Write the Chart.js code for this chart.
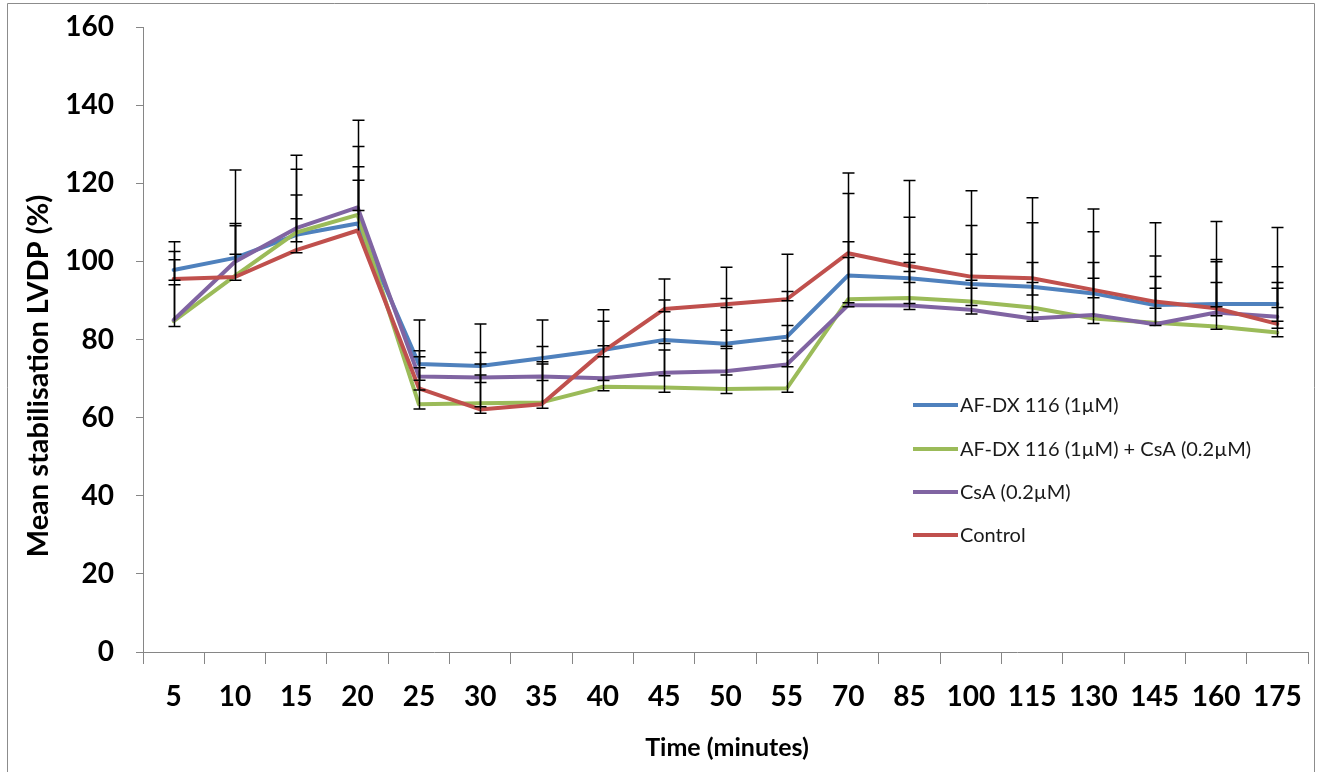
<!DOCTYPE html>
<html>
<head>
<meta charset="utf-8">
<script src="https://cdn.jsdelivr.net/npm/chart.js@4.4.1/dist/chart.umd.min.js"></script>
<style>
  html, body { margin: 0; padding: 0; background: #fff; }
  #wrap { width: 1318px; height: 772px; position: relative; }
</style>
</head>
<body>
<div id="wrap"><canvas id="c" width="1318" height="772"></canvas></div>
<script>
// ---- Data ----
const categories = ['5','10','15','20','25','30','35','40','45','50','55','70','85','100','115','130','145','160','175'];

const seriesNames = ['AF-DX 116 (1µM)', 'AF-DX 116 (1µM) + CsA (0.2µM)', 'CsA (0.2µM)', 'Control'];

const afdx    = [97.8,100.9,106.8,109.7,73.7,73.2,75.2,77.3,79.9,78.9,80.7,96.4,95.7,94.2,93.5,91.8,88.8,89.1,89.1];
const afdxCsa = [84.7,96.3,107.4,111.9,63.4,63.7,63.9,67.9,67.7,67.3,67.5,90.3,90.6,89.7,88.2,85.4,84.3,83.3,81.8];
const csa     = [85.0,99.9,108.5,113.8,70.5,70.3,70.5,70.1,71.5,71.9,73.6,88.8,88.7,87.6,85.4,86.3,83.9,86.9,85.8];
const control = [95.5,96.0,102.9,107.9,67.5,62.1,63.4,76.9,87.8,89.0,90.3,102.1,98.8,96.1,95.7,92.7,89.7,88.0,84.0];

// error bars (upward / downward extents)
const afdxErrUp      = [7.2,22.5,10.2,14.5,11.3,10.8,9.8,10.3,10.2,11.6,11.6,21.0,15.6,15.0,16.4,15.8,12.6,11.4,9.5];
const afdxErrDown    = [2.6,0,1.8,0,0,0,0,0,0.9,0.6,1.1,0,1.1,1.1,2.1,1.1,0.8,0.7,0.9];
const afdxCsaErrUp   = [9.3,5.5,16.2,17.5,9.4,10.0,10.4,7.7,9.6,10.4,9.2,14.7,11.2,12.1,11.5,10.3,8.8,11.3,11.3];
const afdxCsaErrDown = [1.4,0,0,0,1.2,0.9,0,1.0,1.2,1.1,1.0,0.9,1.4,1.0,1.3,1.3,0,0.7,1.1];
const csaErrUp       = [15.4,9.8,18.7,22.3,6.6,6.4,7.7,8.3,10.9,10.5,10.0,12.2,11.0,7.6,9.2,13.4,12.2,13.0,8.8];
const csaErrDown     = [0,0,0,0.8,0.9,1.3,1.0,0.6,0.8,1.0,0.6,0.4,1.0,1.1,0.7,0,0.3,0.8,1.1];
const controlErrUp   = [7.0,13.1,8.0,12.9,8.1,8.8,10.3,7.8,7.7,9.5,11.5,20.5,21.9,22.0,20.6,20.7,20.2,22.2,24.7];
const controlErrDown = [0,0.8,0.7,0,0.4,1.0,1.0,0,0.7,0.8,0.4,0,1.4,0,0,0,0,0,1.1];

const yTicks = [0,20,40,60,80,100,120,140,160];
const xTitle = 'Time (minutes)';
const yTitle = 'Mean stabilisation LVDP (%)';

// ---- Styling ----
const colors = ['#4F81BD', '#9BBB59', '#8064A2', '#C0504D'];
const axisGray = '#868686';

const seriesData = [afdx, afdxCsa, csa, control];
const errUps = [afdxErrUp, afdxCsaErrUp, csaErrUp, controlErrUp];
const errDowns = [afdxErrDown, afdxCsaErrDown, csaErrDown, controlErrDown];

const datasets = seriesData.map((d, i) => ({
  label: seriesNames[i],
  data: d,
  errUp: errUps[i],
  errDown: errDowns[i],
  borderColor: colors[i],
  backgroundColor: colors[i],
  borderWidth: 4,
  pointRadius: 0,
  tension: 0,
  fill: false,
  borderJoinStyle: 'round',
  borderCapStyle: 'round',
  order: 4 - i
}));

const bgPlugin = {
  id: 'bg',
  beforeDraw(chart) {
    const ctx = chart.ctx;
    ctx.save();
    ctx.fillStyle = '#fff';
    ctx.fillRect(0, 0, chart.width, chart.height);
    ctx.strokeStyle = '#8c8c8c';
    ctx.lineWidth = 1;
    ctx.beginPath();
    ctx.moveTo(7.5, 772);
    ctx.lineTo(7.5, 3.5);
    ctx.lineTo(1314.5, 3.5);
    ctx.lineTo(1314.5, 772);
    ctx.stroke();
    ctx.restore();
  }
};

const errorBarPlugin = {
  id: 'errorBars',
  afterDatasetsDraw(chart) {
    const ctx = chart.ctx;
    const xs = chart.scales.x, ys = chart.scales.y;
    ctx.save();
    ctx.strokeStyle = '#000';
    ctx.lineWidth = 1.5;
    const cap = 6;
    chart.data.datasets.forEach(ds => {
      ds.data.forEach((v, j) => {
        const px = Math.round(xs.getPixelForValue(j)) + 0.5;
        const py = ys.getPixelForValue(v);
        [[ds.errUp[j], 1], [ds.errDown[j], -1]].forEach(([e, s]) => {
          if (!e) return;
          const ey = ys.getPixelForValue(v + s * e);
          ctx.beginPath();
          ctx.moveTo(px, py);
          ctx.lineTo(px, ey);
          ctx.moveTo(px - cap, ey);
          ctx.lineTo(px + cap, ey);
          ctx.stroke();
        });
      });
    });
    ctx.restore();
  }
};

const decorPlugin = {
  id: 'decor',
  afterDraw(chart) {
    const ctx = chart.ctx;
    ctx.save();
    // axis titles
    ctx.fillStyle = '#000';
    ctx.font = 'bold 29px Lato';
    ctx.textAlign = 'center';
    ctx.textBaseline = 'middle';
    ctx.save();
    ctx.translate(39, 376);
    ctx.rotate(-Math.PI / 2);
    ctx.fillText(yTitle, 0, 0);
    ctx.restore();
    ctx.font = 'bold 25px Lato';
    ctx.fillText(xTitle, 727, 748);
    // legend
    const rows = [405, 449, 492, 535];
    ctx.font = '20px Lato';
    ctx.textAlign = 'left';
    chart.data.datasets.forEach((ds, i) => {
      const y = rows[i];
      ctx.strokeStyle = ds.borderColor;
      ctx.lineWidth = 4;
      ctx.beginPath();
      ctx.moveTo(913, y);
      ctx.lineTo(958, y);
      ctx.stroke();
      ctx.fillStyle = '#1a1a1a';
      ctx.fillText(ds.label, 960, y + 1);
    });
    ctx.restore();
  }
};

function build() {
  new Chart(document.getElementById('c'), {
    type: 'line',
    data: { labels: categories, datasets },
    plugins: [bgPlugin, errorBarPlugin, decorPlugin],
    options: {
      responsive: false,
      animation: false,
      events: [],
      layout: { padding: { left: 0, right: 10, top: 27, bottom: 0 } },
      plugins: { legend: { display: false }, tooltip: { enabled: false }, title: { display: false } },
      scales: {
        x: {
          type: 'category',
          offset: true,
          afterFit(s) { s.height = 120; s.paddingLeft = 0; s.paddingRight = 0; },
          grid: { display: true, drawOnChartArea: false, drawTicks: true, tickLength: 12, color: axisGray, offset: true },
          border: { display: true, color: axisGray, width: 1 },
          ticks: { autoSkip: false, maxRotation: 0, minRotation: 0, padding: 16, color: '#000',
                   font: { family: 'Lato', weight: 'bold', size: 28 } }
        },
        y: {
          min: 0, max: 160,
          afterFit(s) { s.width = 143; s.paddingTop = 0; s.paddingBottom = 0; },
          afterBuildTicks(s) { s.ticks = yTicks.map(v => ({ value: v })); },
          grid: { display: true, drawOnChartArea: false, drawTicks: true, tickLength: 7, color: axisGray },
          border: { display: true, color: axisGray, width: 1 },
          ticks: { padding: 22, color: '#000', font: { family: 'Lato', weight: 'bold', size: 28 } }
        }
      }
    }
  });
}

const loads = ['bold 28px Lato', 'bold 29px Lato', '20px Lato'].map(f => document.fonts.load(f).catch(() => null));
Promise.race([Promise.all(loads), new Promise(r => setTimeout(r, 1500))]).then(build);
</script>
</body>
</html>
